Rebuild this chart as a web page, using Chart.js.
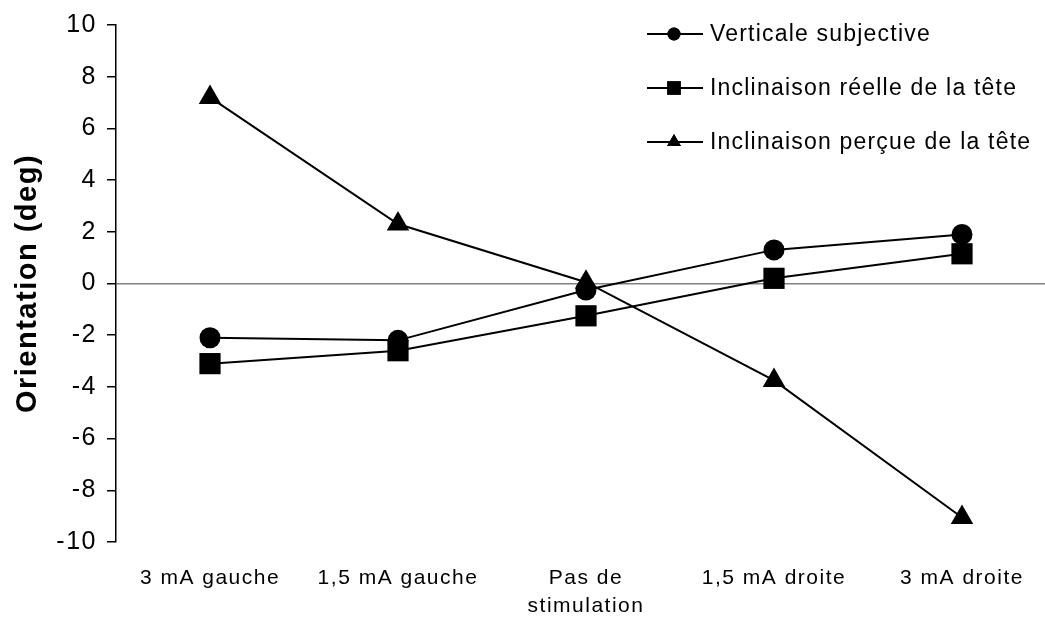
<!DOCTYPE html>
<html>
<head>
<meta charset="utf-8">
<script src="https://cdn.jsdelivr.net/npm/chart.js@4.4.0/dist/chart.umd.min.js"></script>
<style>
  html, body { margin: 0; padding: 0; background: #fff; overflow: hidden; }
  canvas { display: block; }
</style>
</head>
<body>
<!-- wider than the window: the plot runs past the right edge like the original -->
<canvas id="chart" width="1071" height="619"></canvas>
<script>
const categories = ['3 mA gauche', '1,5 mA gauche', ['Pas de', 'stimulation'], '1,5 mA droite', '3 mA droite'];
const verticaleSubjective = [-2.1, -2.2, -0.25, 1.3, 1.9];
const inclinaisonReelle = [-3.1, -2.6, -1.25, 0.2, 1.15];
const inclinaisonPercue = [7.2, 2.3, 0.05, -3.75, -9.05];
const seriesNames = ['Verticale subjective', 'Inclinaison réelle de la tête', 'Inclinaison perçue de la tête'];
const yTicks = [-10, -8, -6, -4, -2, 0, 2, 4, 6, 8, 10];

const FONT = '"Liberation Sans", Arial, sans-serif';
const SPACING = '1.5px';

// the old office look: letters a bit spread out
const spreadText = {
  id: 'spreadText',
  beforeUpdate(chart) { chart.ctx.letterSpacing = SPACING; },
  beforeDraw(chart) { chart.ctx.letterSpacing = SPACING; }
};

// legend drawn by hand: line - marker - line, then text
const lineLegend = {
  id: 'lineLegend',
  afterDraw(chart) {
    const ctx = chart.ctx;
    ctx.save();
    chart.data.datasets.forEach((ds, i) => {
      let y = 34 + i * 54;
      ctx.strokeStyle = '#000';
      ctx.lineWidth = 2;
      ctx.beginPath();
      ctx.moveTo(647, y);
      ctx.lineTo(703, y);
      ctx.stroke();
      Chart.helpers.drawPoint(ctx, {
        pointStyle: ds.pointStyle,
        radius: ds.legendRadius,
        borderWidth: 0
      }, 674, y);
      ctx.fillStyle = '#000';
      ctx.fill();
      ctx.letterSpacing = '1.2px';
      ctx.font = '23px ' + FONT;
      ctx.textBaseline = 'middle';
      ctx.textAlign = 'left';
      ctx.fillText(ds.label, 710, y + 1);
    });
    ctx.restore();
  }
};

function makeDataset(label, values, style, radius, legendRadius) {
  return {
    label: label,
    data: values,
    borderColor: '#000',
    backgroundColor: '#000',
    borderWidth: 2,
    pointStyle: style,
    pointRadius: radius,
    pointHoverRadius: radius,
    pointBorderWidth: 0,
    legendRadius: legendRadius,
    tension: 0
  };
}

new Chart(document.getElementById('chart'), {
  type: 'line',
  data: {
    labels: categories,
    datasets: [
      makeDataset(seriesNames[0], verticaleSubjective, 'circle', 10.5, 6.5),
      makeDataset(seriesNames[1], inclinaisonReelle, 'rect', 15, 9.5),
      makeDataset(seriesNames[2], inclinaisonPercue, 'triangle', 13, 8)
    ]
  },
  options: {
    responsive: false,
    animation: false,
    layout: { padding: { top: 25, left: 0, right: 4, bottom: 0 } },
    plugins: {
      legend: { display: false },
      tooltip: { enabled: false }
    },
    scales: {
      x: {
        offset: true,
        afterFit: axis => { axis.height = 77; },
        grid: { display: false, drawTicks: false },
        border: { display: false },
        ticks: {
          color: '#000',
          font: { family: FONT, size: 21, lineHeight: 1.35 },
          maxRotation: 0,
          autoSkip: false,
          padding: 22
        }
      },
      y: {
        min: -10,
        max: 10,
        afterFit: axis => { axis.width = 116; },
        afterBuildTicks: axis => { axis.ticks = yTicks.map(v => ({ value: v })); },
        border: { display: true, color: '#000', width: 1.5 },
        grid: {
          color: c => c.tick && c.tick.value === 0 ? '#808080' : 'rgba(0,0,0,0)',
          lineWidth: 1.5,
          tickColor: '#000',
          tickLength: 9,
          drawTicks: true
        },
        ticks: {
          color: '#000',
          font: { family: FONT, size: 25 },
          padding: 10
        },
        title: {
          display: true,
          text: 'Orientation (deg)',
          color: '#000',
          font: { family: FONT, size: 29, weight: 'bold' },
          padding: { top: 11, bottom: 0 }
        }
      }
    }
  },
  plugins: [spreadText, lineLegend]
});
</script>
</body>
</html>
